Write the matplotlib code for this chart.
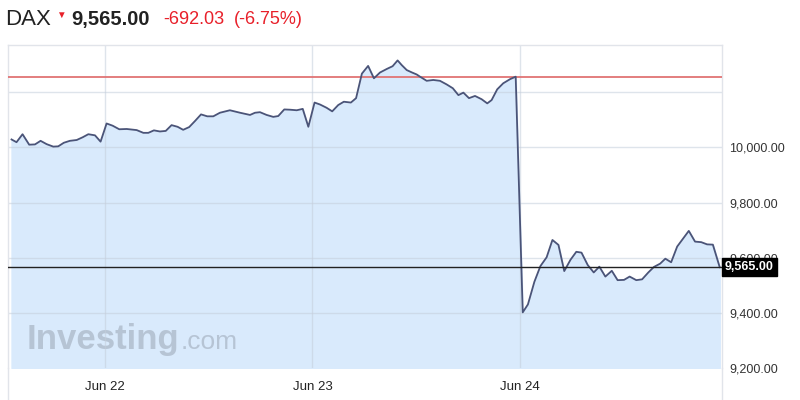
import numpy as np
import matplotlib.pyplot as plt
from matplotlib.lines import Line2D
from matplotlib.transforms import blended_transform_factory

plt.rcParams['font.family'] = ['Liberation Sans', 'DejaVu Sans']

# 时间位置（单位：交易日，1 = Jun 22 开盘）与 DAX 点位
pos = [0.550, 0.574, 0.603, 0.635, 0.663, 0.690, 0.719, 0.751, 0.775, 0.802,
       0.831, 0.864, 0.893, 0.920, 0.952, 0.979, 1.008, 1.037, 1.069, 1.105,
       1.153, 1.185, 1.209, 1.236, 1.265, 1.293, 1.321, 1.350, 1.377, 1.406,
       1.434, 1.463, 1.493, 1.522, 1.554, 1.602, 1.651, 1.699, 1.723, 1.747,
       1.779, 1.811, 1.835, 1.864, 1.892, 1.924, 1.953, 1.980, 2.010, 2.036,
       2.068, 2.095, 2.124, 2.151, 2.185, 2.210, 2.238, 2.268, 2.296, 2.325,
       2.358, 2.386, 2.410, 2.430, 2.454, 2.480, 2.502, 2.518, 2.550, 2.582,
       2.614, 2.646, 2.676, 2.703, 2.727, 2.754, 2.783, 2.815, 2.842, 2.863,
       2.890, 2.919, 2.952, 2.979, 3.013, 3.038, 3.069, 3.098, 3.128, 3.156,
       3.185, 3.213, 3.243, 3.271, 3.296, 3.326, 3.355, 3.382, 3.411, 3.442,
       3.470, 3.501, 3.528, 3.560, 3.588, 3.618, 3.645, 3.675, 3.700, 3.728,
       3.757, 3.813, 3.843, 3.873, 3.901, 3.929, 3.962]
price = [10029, 10019, 10048, 10010, 10011, 10024, 10012, 10003, 10004, 10017,
         10024, 10027, 10037, 10048, 10044, 10021, 10087, 10079, 10066, 10067,
         10063, 10053, 10053, 10062, 10058, 10060, 10081, 10075, 10064, 10074,
         10096, 10120, 10113, 10113, 10126, 10135, 10126, 10118, 10126, 10128,
         10118, 10111, 10114, 10138, 10137, 10135, 10140, 10075, 10163, 10156,
         10144, 10131, 10154, 10166, 10163, 10179, 10268, 10296, 10251, 10272,
         10285, 10295, 10316, 10299, 10281, 10272, 10265, 10257, 10242, 10245,
         10242, 10229, 10215, 10190, 10199, 10179, 10187, 10175, 10160, 10172,
         10211, 10233, 10248, 10257, 9401, 9430, 9512, 9569, 9601, 9664,
         9646, 9551, 9592, 9621, 9618, 9573, 9546, 9567, 9531, 9552,
         9518, 9519, 9531, 9518, 9521, 9546, 9566, 9578, 9596, 9583,
         9640, 9697, 9658, 9656, 9648, 9647, 9565]

prev_close = 10257.03
last = 9565.00
change = -692.03
change_pct = -6.75

day_ticks = [1, 2, 3]
day_labels = ['Jun 22', 'Jun 23', 'Jun 24']
y_ticks = [9200, 9400, 9600, 9800, 10000, 10200]
y_labels = ['9,200.00', '9,400.00', '9,600.00', '9,800.00', '10,000.00', '']

fig = plt.figure(figsize=(8, 4), dpi=100)
ax = fig.add_axes([0.01, 0.08, 0.8925, 0.8075])

ymin, ymax = 9199, 10372
ax.set_xlim(0.533, 3.973)
ax.set_ylim(ymin, ymax)

ax.fill_between(pos, price, ymin, color='#d9eafc', zorder=1)
ax.plot(pos, price, color='#4b5478', lw=1.3, zorder=4)

ax.axhline(prev_close, color='#e07474', lw=1.3, zorder=3)
ax.axhline(last, color='#222222', lw=1.0, zorder=5)

# 网格线
for t in day_ticks:
    ax.axvline(t, color='#c4cedb', lw=1, alpha=0.55, zorder=2)
for t in y_ticks[1:]:
    ax.axhline(t, color='#c4cedb', lw=1, alpha=0.55, zorder=2)

ax.set_xticks(day_ticks)
ax.set_xticklabels(day_labels, fontsize=9.5, color='#222222')
ax.set_yticks(y_ticks)
ax.set_yticklabels(y_labels, fontsize=9, color='#333333')
ax.yaxis.tick_right()
ax.tick_params(axis='y', length=0, pad=5)
ax.tick_params(axis='x', length=0, pad=9)

for s in ['left', 'top', 'right']:
    ax.spines[s].set_color('#e1e4ea')
    ax.spines[s].set_linewidth(1)
ax.spines['bottom'].set_visible(False)

# 边框向下延伸
for xf in [0.01, 0.9025]:
    fig.add_artist(Line2D([xf, xf], [0, 0.08], color='#e1e4ea', lw=1))

# 最新价标签
tr = blended_transform_factory(ax.transAxes, ax.transData)
ax.text(1.004, last, '{:,.2f}'.format(last), transform=tr, ha='left', va='center',
        fontsize=9, fontweight='bold', color='white', zorder=10, clip_on=False,
        bbox=dict(boxstyle='square,pad=0.25', fc='black', ec='black'))

# 水印
ax.text(0.026, 0.058, 'Investing', transform=ax.transAxes, fontsize=25,
        fontweight='bold', color='#aebbcb', alpha=0.8, zorder=1.5)
ax.text(0.242, 0.058, '.com', transform=ax.transAxes, fontsize=19,
        color='#aebbcb', alpha=0.8, zorder=1.5)

# 标题
fig.text(0.006, 0.952, 'DAX', fontsize=16, color='#222222', va='center')
fig.text(0.070, 0.963, '▼', fontsize=7, color='#e8202a', va='center')
fig.text(0.089, 0.952, '{:,.2f}'.format(last), fontsize=14.5, fontweight='bold',
         color='#222222', va='center')
fig.text(0.204, 0.952, '{:,.2f}'.format(change), fontsize=13, color='#e8202a', va='center')
fig.text(0.292, 0.952, '({:.2f}%)'.format(change_pct), fontsize=13, color='#e8202a', va='center')

fig.savefig('out.png', dpi=100)
